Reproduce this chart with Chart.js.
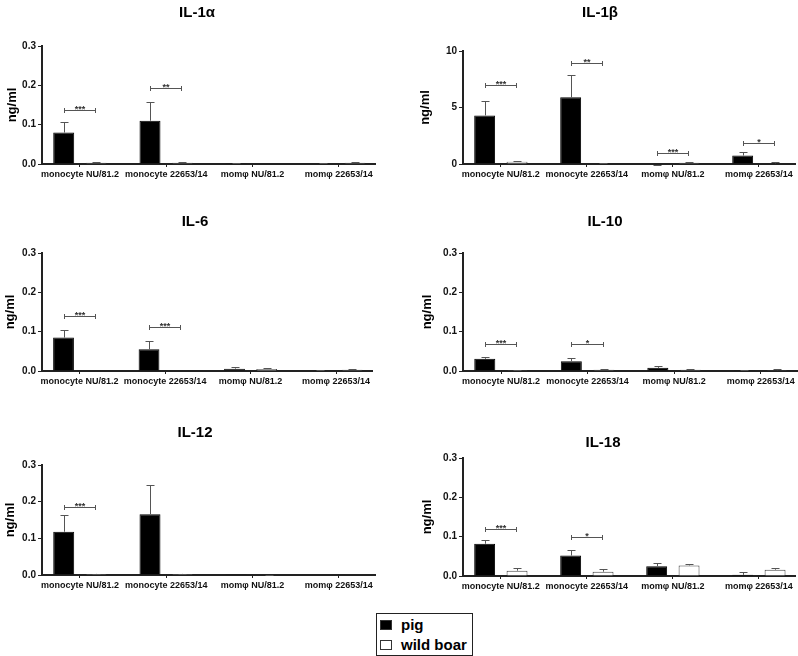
<!DOCTYPE html>
<html>
<head>
<meta charset="utf-8">
<script src="https://cdn.jsdelivr.net/npm/chart.js@4.4.0/dist/chart.umd.min.js"></script>
<style>
  body { margin: 0; background: #fff; }
  #wrap { position: relative; width: 798px; height: 656px; font-family: 'Liberation Sans', Arial, sans-serif; }
  #wrap canvas { position: absolute; }
  .legend { position: absolute; left: 376px; top: 613px; width: 95px; height: 41px; border: 1px solid #222;
            font-weight: bold; font-size: 15px; color: #000; }
  .legend div { display: flex; align-items: center; height: 19px; padding-left: 3px; margin-top: 1px; }
  .sw { width: 12px; height: 10px; border: 1px solid #333; margin-right: 9px; box-sizing: border-box; }
</style>
</head>
<body>
<div id="wrap">
  <canvas id="c1"></canvas>
  <canvas id="c2"></canvas>
  <canvas id="c3"></canvas>
  <canvas id="c4"></canvas>
  <canvas id="c5"></canvas>
  <canvas id="c6"></canvas>
  <div class="legend">
    <div><span class="sw" style="background:#000"></span>pig</div>
    <div><span class="sw" style="background:#fff"></span>wild boar</div>
  </div>
</div>
<script>
const categories = ['monocyte NU/81.2', 'monocyte 22653/14', 'momφ NU/81.2', 'momφ 22653/14'];
const seriesNames = ['pig', 'wild boar'];

// means and SD (upper error bar only), ng/ml
const il1aPig = [0.080, 0.110, 0.002, 0.001];
const il1aPigSd = [0.026, 0.047, 0.001, 0.001];
const il1aBoar = [0.003, 0.003, 0, 0.003];
const il1aBoarSd = [0.001, 0.001, 0, 0.001];
const il1aStars = [[0, 0.137, '***'], [1, 0.192, '**']];

const il1bPig = [4.3, 5.9, -0.15, 0.75];
const il1bPigSd = [1.25, 2.0, 0.05, 0.28];
const il1bBoar = [0.2, 0.05, 0.1, 0.05];
const il1bBoarSd = [0.05, 0.03, 0.05, 0.1];
const il1bStars = [[0, 6.95, '***'], [1, 8.95, '**'], [2, 0.95, '***'], [3, 1.85, '*']];

const il6Pig = [0.085, 0.055, 0.006, 0.001];
const il6PigSd = [0.018, 0.021, 0.004, 0.0005];
const il6Boar = [0, 0, 0.005, 0.003];
const il6BoarSd = [0, 0, 0.002, 0.001];
const il6Stars = [[0, 0.140, '***'], [1, 0.112, '***']];

const il10Pig = [0.031, 0.025, 0.008, 0.002];
const il10PigSd = [0.005, 0.008, 0.004, 0.001];
const il10Boar = [0.002, 0.003, 0.003, 0.002];
const il10BoarSd = [0.0005, 0.001, 0.003, 0.002];
const il10Stars = [[0, 0.068, '***'], [1, 0.068, '*']];

const il12Pig = [0.118, 0.166, 0.001, 0];
const il12PigSd = [0.045, 0.080, 0, 0];
const il12Boar = [0.003, 0.003, -0.002, 0.001];
const il12BoarSd = [0.001, 0.001, 0.001, 0];
const il12Stars = [[0, 0.186, '***']];

const il18Pig = [0.082, 0.052, 0.025, 0.003];
const il18PigSd = [0.010, 0.013, 0.009, 0.006];
const il18Boar = [0.0135, 0.011, 0.027, 0.016];
const il18BoarSd = [0.0075, 0.007, 0.004, 0.005];
const il18Stars = [[0, 0.119, '***'], [1, 0.100, '*']];

const FONT = "'Liberation Sans', Arial, sans-serif";

// upward error bars with caps
const errorBars = {
  id: 'errorBars',
  afterDatasetsDraw(chart) {
    const ctx = chart.ctx, y = chart.scales.y;
    ctx.save();
    ctx.strokeStyle = '#555';
    ctx.lineWidth = 1;
    chart.data.datasets.forEach((ds, i) => {
      chart.getDatasetMeta(i).data.forEach((bar, j) => {
        const sd = ds.sd[j];
        if (!sd) return;
        const x = Math.round(bar.x) + 0.5;
        const top = Math.round(y.getPixelForValue(ds.data[j] + sd)) + 0.5;
        ctx.beginPath();
        ctx.moveTo(x, bar.y);
        ctx.lineTo(x, top);
        ctx.moveTo(x - 4, top);
        ctx.lineTo(x + 4, top);
        ctx.stroke();
      });
    });
    ctx.restore();
  }
};

// significance brackets between pig and wild boar bars
const sigBrackets = {
  id: 'sigBrackets',
  afterDatasetsDraw(chart, args, opts) {
    const ctx = chart.ctx, y = chart.scales.y;
    const a = chart.getDatasetMeta(0).data, b = chart.getDatasetMeta(1).data;
    ctx.save();
    ctx.strokeStyle = '#555';
    ctx.fillStyle = '#333';
    ctx.lineWidth = 1;
    ctx.font = 'bold 9px ' + FONT;
    ctx.textAlign = 'center';
    ctx.textBaseline = 'alphabetic';
    (opts.items || []).forEach(([g, v, label]) => {
      const x1 = Math.round(a[g].x), x2 = Math.round(b[g].x);
      const py = Math.round(y.getPixelForValue(v)) + 0.5;
      ctx.beginPath();
      ctx.moveTo(x1, py); ctx.lineTo(x2, py);
      ctx.moveTo(x1 + 0.5, py - 2.5); ctx.lineTo(x1 + 0.5, py + 2.5);
      ctx.moveTo(x2 - 0.5, py - 2.5); ctx.lineTo(x2 - 0.5, py + 2.5);
      ctx.stroke();
      ctx.fillText(label, (x1 + x2) / 2, py + 1.5);
    });
    ctx.restore();
  }
};

// [left, top, width, titleX, yLabelX, areaLeft, areaRight, titleY, areaTop, areaBottom] (panel-relative px)
const panels = [
  { id: 'c1', title: 'IL-1α', pig: il1aPig, pigSd: il1aPigSd, boar: il1aBoar, boarSd: il1aBoarSd, stars: il1aStars,
    yMax: 0.3, step: 0.1, dec: 1, box: [0, 0, 400, 197, 12, 42, 375, 13, 46, 164] },
  { id: 'c2', title: 'IL-1β', pig: il1bPig, pigSd: il1bPigSd, boar: il1bBoar, boarSd: il1bBoarSd, stars: il1bStars,
    yMax: 10, step: 5, dec: 0, box: [400, 0, 398, 200, 25, 63, 395, 13, 51, 164] },
  { id: 'c3', title: 'IL-6', pig: il6Pig, pigSd: il6PigSd, boar: il6Boar, boarSd: il6BoarSd, stars: il6Stars,
    yMax: 0.3, step: 0.1, dec: 1, box: [0, 200, 400, 195, 10, 42, 372, 22, 53, 171] },
  { id: 'c4', title: 'IL-10', pig: il10Pig, pigSd: il10PigSd, boar: il10Boar, boarSd: il10BoarSd, stars: il10Stars,
    yMax: 0.3, step: 0.1, dec: 1, box: [400, 200, 398, 205, 27, 63, 397, 22, 53, 171] },
  { id: 'c5', title: 'IL-12', pig: il12Pig, pigSd: il12PigSd, boar: il12Boar, boarSd: il12BoarSd, stars: il12Stars,
    yMax: 0.3, step: 0.1, dec: 1, box: [0, 400, 400, 195, 10, 42, 375, 33, 65, 175] },
  { id: 'c6', title: 'IL-18', pig: il18Pig, pigSd: il18PigSd, boar: il18Boar, boarSd: il18BoarSd, stars: il18Stars,
    yMax: 0.3, step: 0.1, dec: 1, box: [400, 400, 398, 203, 27, 63, 395, 43, 58, 176] }
];

const H = 200, XH = 22;

panels.forEach(p => {
  const [left, top, width, titleX, yLabelX, areaLeft, areaRight, titleY, areaTop, areaBottom] = p.box;
  const padR = width - areaRight;
  // title box spans [padL, width - padR]; pick padL so the title lands on titleX
  const padL = Math.max(0, 2 * titleX - width + padR);
  const yW = areaLeft - padL;
  const canvas = document.getElementById(p.id);
  canvas.width = width;
  canvas.height = H;
  canvas.style.left = left + 'px';
  canvas.style.top = top + 'px';

  new Chart(canvas.getContext('2d'), {
    type: 'bar',
    data: {
      labels: categories,
      datasets: [
        { label: seriesNames[0], data: p.pig, sd: p.pigSd, backgroundColor: '#000', borderColor: '#000', borderWidth: 1 },
        { label: seriesNames[1], data: p.boar, sd: p.boarSd, backgroundColor: '#fff', borderColor: '#444', borderWidth: 1 }
      ]
    },
    options: {
      responsive: false,
      animation: false,
      devicePixelRatio: 1,
      categoryPercentage: 0.753,
      barPercentage: 0.646,
      layout: { padding: { left: padL, right: padR, top: 0, bottom: H - areaBottom - XH } },
      scales: {
        x: {
          offset: true,
          afterBuildTicks(s) { s._startValue = -0.44; s._valueRange = 3.86; },
          afterFit(s) { s.height = XH; },
          grid: { display: true, drawOnChartArea: false, offset: false, tickLength: 3, color: '#222' },
          border: { display: true, color: '#222', width: 2 },
          ticks: { autoSkip: false, maxRotation: 0, padding: 2, color: '#111',
                   font: { family: FONT, size: 9, weight: 'bold' } }
        },
        y: {
          min: 0, max: p.yMax,
          afterFit(s) { s.width = yW; },
          grid: { display: true, drawOnChartArea: false, tickLength: 4, color: '#222' },
          border: { display: true, color: '#222', width: 2 },
          ticks: { stepSize: p.step, padding: 2, color: '#111',
                   font: { family: FONT, size: 10, weight: 'bold' },
                   callback: v => Number(v).toFixed(p.dec) },
          title: { display: true, text: 'ng/ml', color: '#000', padding: { top: yLabelX - padL - 7.8, bottom: 0 },
                   font: { family: FONT, size: 13, weight: 'bold', lineHeight: 1.2 } }
        }
      },
      plugins: {
        legend: { display: false },
        tooltip: { enabled: false },
        title: { display: true, text: p.title, color: '#000',
                 padding: { top: titleY - 9, bottom: areaTop - titleY - 9 },
                 font: { family: FONT, size: 15, weight: 'bold', lineHeight: 1.2 } },
        sigBrackets: { items: p.stars }
      }
    },
    plugins: [errorBars, sigBrackets]
  });
});
</script>
</body>
</html>
